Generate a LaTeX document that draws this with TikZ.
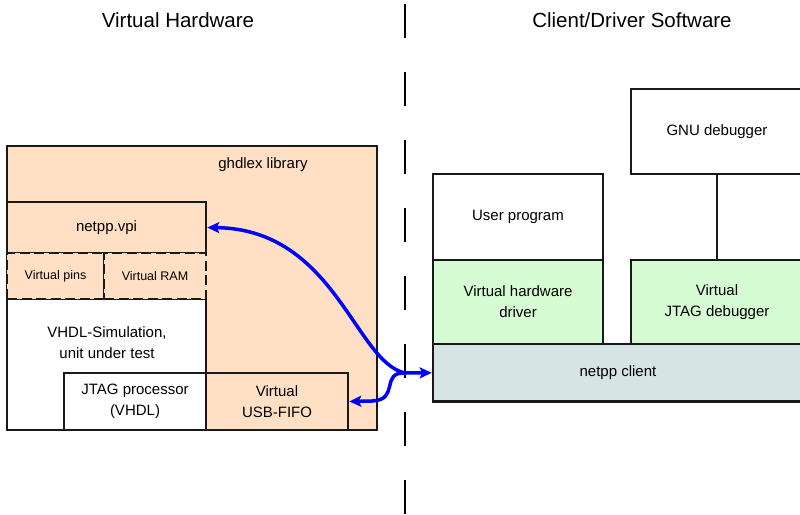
\documentclass[tikz,border=0pt]{standalone}
\usepackage{fontspec}
\setmainfont{Liberation Sans}
\usetikzlibrary{arrows.meta}
\definecolor{peach}{HTML}{FFE0C4}
\definecolor{mint}{HTML}{D6FCD4}
\definecolor{clientgray}{HTML}{D7E4E4}
\definecolor{flowblue}{HTML}{0000FF}
\begin{document}
\begin{tikzpicture}[x=1pt,y=-1pt,
  box/.style={draw=black!90, line width=2.6pt, inner sep=0pt, align=center,
    font=\fontsize{15}{21}\selectfont},
  dbox/.style={box, line width=2.8pt, dash pattern=on 10pt off 4.5pt, font=\fontsize{12.5}{15}\selectfont},
  lbl/.style={inner sep=0pt, align=center, font=\fontsize{15}{21}\selectfont},
  title/.style={inner sep=0pt, font=\fontsize{20.5}{24}\selectfont},
  divider/.style={line width=1.5pt, dash pattern=on 34pt off 34pt},
  flow/.style={draw=flowblue, line width=3.5pt,
    -{Stealth[length=12pt,width=11pt,inset=2.5pt]}},
  link/.style={draw=black!90, line width=2.6pt}]
\useasboundingbox (0,0) rectangle (800,514);
% titles
\node[title] (t1) at (178,20) {Virtual Hardware};
\node[title] (t2) at (632,20) {Client/Driver Software};
% divider
\coordinate (dtop) at (405,4);
\coordinate (dbot) at (405,514);
\draw[divider] (dtop) -- (dbot);
% left side
\node[box, fill=peach, minimum width=370pt, minimum height=284pt] (ghdlex) at (192,288) {};
\node[lbl] (ghdlexlbl) at (263,165) {ghdlex library};
\node[box, fill=peach, minimum width=199pt, minimum height=51pt] (vpi) at (106.5,227.5) {netpp.vpi};
\node[box, fill=white, minimum width=199pt, minimum height=131pt] (sim) at (106.5,364.5) {};
\node[lbl] (simlbl) at (107,343) {VHDL-Simulation,\\unit under test};
\node[dbox, fill=peach, minimum width=97pt, minimum height=46pt] (pins) at (55.5,276) {Virtual pins};
\node[dbox, fill=peach, minimum width=102pt, minimum height=46pt] (ram) at (155,276) {Virtual RAM};
\node[box, fill=white, minimum width=142pt, minimum height=57pt] (jtag) at (135,401.5) {JTAG processor\\(VHDL)};
\node[box, fill=peach, minimum width=142pt, minimum height=57pt] (fifo) at (277,401.5) {Virtual\\USB-FIFO};
% right side
\node[box, fill=white, minimum width=170pt, minimum height=86pt] (user) at (518,217) {User program};
\node[box, fill=mint, minimum width=170pt, minimum height=84pt] (hwdrv) at (518,302) {Virtual hardware\\driver};
\node[box, fill=white, minimum width=172pt, minimum height=85pt] (gnu) at (717,131.5) {GNU debugger};
\node[box, fill=mint, minimum width=172pt, minimum height=84pt] (jtagdbg) at (717,302) {Virtual\\JTAG debugger};
\node[box, fill=clientgray, minimum width=370pt, minimum height=57.5pt] (client) at (618,372.75) {netpp client};
\draw[link] (gnu.south) -- (jtagdbg.north);
% connectors
\coordinate (j) at (405,373);
\draw[flow] (j) .. controls (355,362) and (335,229) .. (vpi.east);
\draw[flow] (j) -- (client.west);
\draw[flow] (j) .. controls (380,372) and (400,400) .. (372,401) -- (fifo.east);
\end{tikzpicture}
\end{document}
